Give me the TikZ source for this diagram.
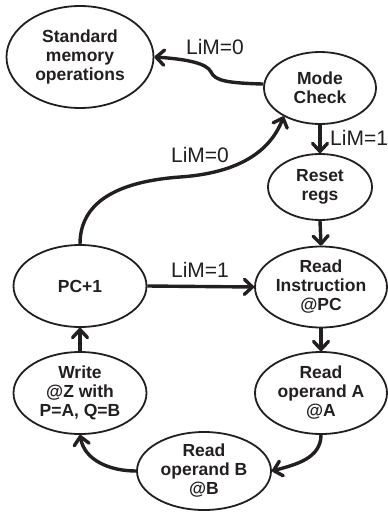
\documentclass[tikz,border=0pt]{standalone}
\usepackage{fontspec}
\setmainfont{Liberation Sans}
\usetikzlibrary{arrows.meta,shapes.geometric}
\definecolor{ink}{RGB}{35,31,32}
\begin{document}
\begin{tikzpicture}[x=1pt,y=-1pt,
  state/.style={ellipse, draw=ink, line width=1.8pt, inner sep=0pt, align=center,
    text=ink, font=\bfseries\fontsize{17.5}{19}\selectfont},
  lbl/.style={inner sep=0pt, text=ink, font=\fontsize{21}{23}\selectfont},
  arr/.style={draw=ink, line width=3.4pt,
    -{Straight Barb[length=8pt,width=15pt,round]}}]
\useasboundingbox (0,0) rectangle (388,512);

% states
\node[state, minimum width=147pt, minimum height=102pt] (std)   at (80,57)   {Standard\\memory\\operations};
\node[state, minimum width=112pt, minimum height=72pt]  (mode)  at (320,88)  {Mode\\Check};
\node[state, minimum width=104pt, minimum height=66pt]  (reset) at (320,187) {Reset\\regs};
\node[state, minimum width=132pt, minimum height=81pt]  (instr) at (321,287) {Read\\Instruction\\@PC};
\node[state, minimum width=133pt, minimum height=82pt]  (pc)    at (80,286)  {PC+1};
\node[state, minimum width=132pt, minimum height=82pt]  (opA)   at (321,393) {Read\\operand A\\@A};
\node[state, minimum width=133pt, minimum height=82pt]  (wr)    at (80,393)  {Write\\@Z with\\P=A, Q=B};
\node[state, minimum width=134pt, minimum height=78pt]  (opB)   at (204,471) {Read\\operand B\\@B};

% bend points of the two S-shaped connectors
\coordinate (k1) at (211,72);
\coordinate (k2) at (180,177);

% transitions
\draw[arr] (mode.176) .. controls (228,83) and (215,81) .. (k1)
                      .. controls (207,63) and (185,59) .. (std.east);
\draw[arr] (mode.south) -- (reset.north);
\draw[arr] (reset.south) -- (instr.north);
\draw[arr] (pc.north) .. controls (80,198) and (125,181) .. (k2)
                      .. controls (238,173) and (270,152) .. (mode.218);
\draw[arr] (pc.east) -- (instr.west);
\draw[arr] (instr.south) -- (opA.north);
\draw[arr] (opA.south) to[out=-90,in=15] (opB.east);
\draw[arr] (opB.west) to[out=180,in=-80] (wr.south);
\draw[arr] (wr.north) -- (pc.south);

% transition labels
\node[lbl] (l1) at (215,47) {LiM=0};
\node[lbl, anchor=west] (l2) at (330,138) {LiM=1};
\node[lbl] (l3) at (200,155) {LiM=0};
\node[lbl] (l4) at (200,270) {LiM=1};
\end{tikzpicture}
\end{document}
